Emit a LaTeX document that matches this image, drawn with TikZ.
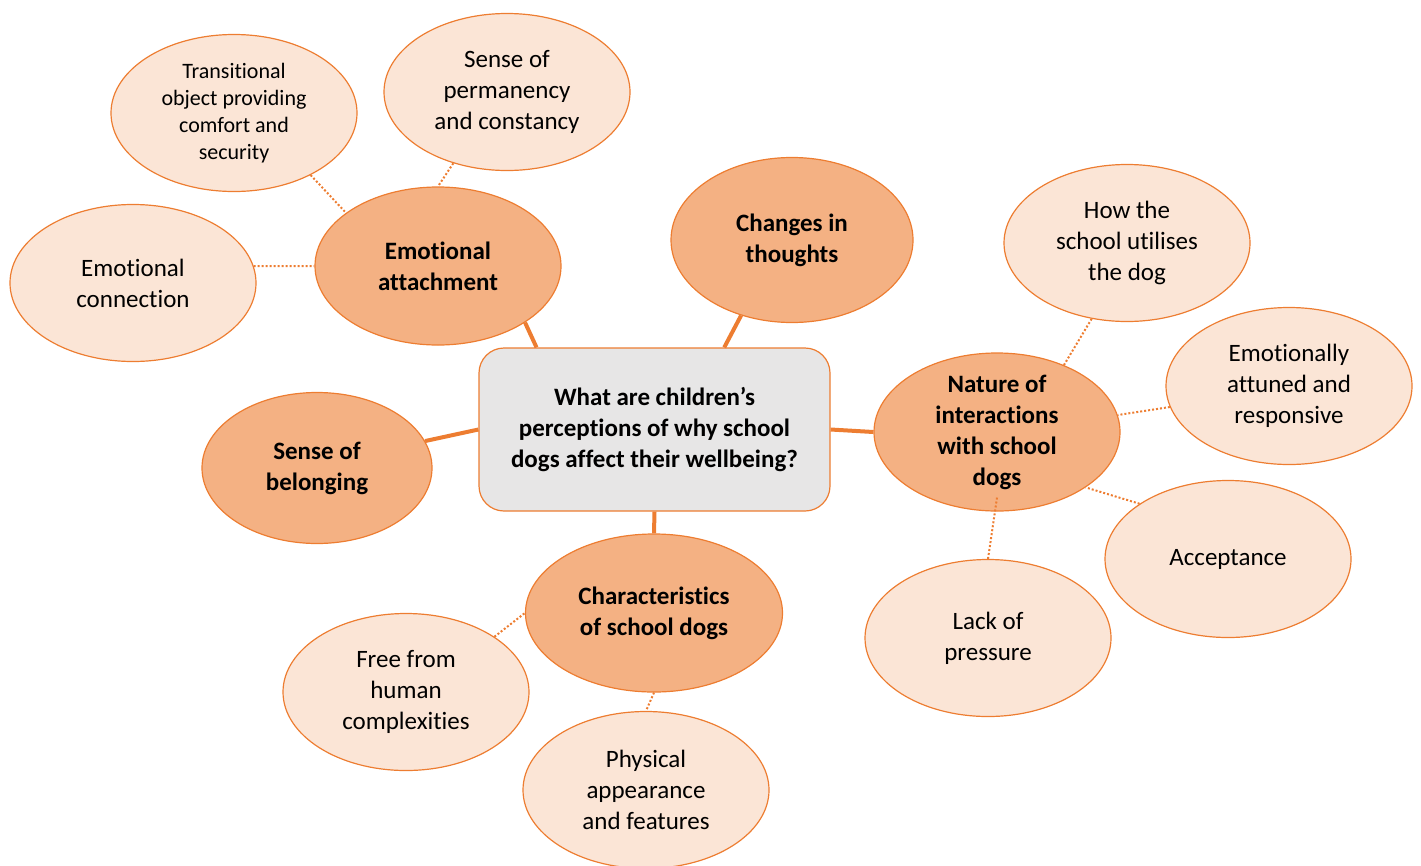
\documentclass[tikz,border=0pt]{standalone}
\usepackage{fontspec}
\setmainfont{Carlito}[Ligatures=CommonOff]
\usetikzlibrary{shapes.geometric, calc}

\definecolor{accent}{HTML}{ED7D31}
\definecolor{topicfill}{HTML}{F4B183}
\definecolor{ideafill}{HTML}{FBE5D6}
\definecolor{qfill}{HTML}{E7E6E6}

\begin{document}
\begin{tikzpicture}[x=1pt, y=-1pt, font=\fontsize{25}{31}\selectfont,
    topic/.style={ellipse, draw=accent, line width=1.2pt, fill=topicfill, align=center,
        inner sep=-8pt, minimum width=246pt, minimum height=158pt,
        font=\fontsize{25}{31}\selectfont\bfseries},
    idea/.style={ellipse, draw=accent, line width=1.2pt, fill=ideafill, align=center,
        inner sep=-8pt, minimum width=246pt, minimum height=157pt},
    question/.style={rectangle, rounded corners=25pt, draw=accent, line width=1.2pt,
        fill=qfill, align=center, minimum width=351pt, minimum height=163pt,
        font=\fontsize{25}{31}\selectfont\bfseries},
    spoke/.style={draw=accent, line width=4pt},
    twig/.style={draw=accent, line width=2pt, dash pattern=on 2pt off 2pt}]
        \useasboundingbox (0,0) rectangle (1421,865);

        \node[question]     (q)     at (654.5,429.5)    {What are children’s\\perceptions of why school\\dogs affect their wellbeing?};

        \node[topic]        (att)   at (438,266)        {Emotional\\attachment};
        \node[topic, minimum width=242pt, minimum height=165pt]
                            (chg)   at (792,240)        {Changes in\\thoughts};
        \node[topic, minimum width=230pt, minimum height=151pt]
                            (bel)   at (317,468)        {Sense of\\belonging};
        \node[topic]        (nat)   at (997,432)        {Nature of\\interactions\\with school\\dogs};
        \node[topic, minimum width=257pt]
                            (chr)   at (654,613)        {Characteristics\\of school dogs};

        \node[idea]         (con)   at (133,283)        {Emotional\\connection};
        \node[idea, font=\fontsize{22}{27}\selectfont]
                            (obj)   at (234,113)        {Transitional\\object providing\\comfort and\\security};
        \node[idea]         (perm)  at (507,92)         {Sense of\\permanency\\and constancy};
        \node[idea]         (use)   at (1127,243)       {How the\\school utilises\\the dog};
        \node[idea]         (tune)  at (1289,386)       {Emotionally\\attuned and\\responsive};
        \node[idea]         (acc)   at (1228,559)       {Acceptance};
        \node[idea]         (pres)  at (988,638)        {Lack of\\pressure};
        \node[idea]         (free)  at (406,692)        {Free from\\human\\complexities};
        \node[idea]         (phys)  at (646,790)        {Physical\\appearance\\and features};

        \path[spoke]
        (att.-33) edge ($(q.north west)!.165!(q.north east)$)
        (chg.-124) edge ($(q.north west)!.698!(q.north east)$)
        (bel.14) edge (q.west)
        (q.east) edge (nat.west)
        (q.south) edge (chr.north)
        ;

        \path[twig]
        (con.8) edge (att.west)
        (obj.-39) edge (att.150)
        (perm.-127) edge (att.north)
        (use.-115) edge (nat.45)
        (tune.190) edge (nat.8)
        (acc.148) edge (nat.-32)
        (pres.north) edge ([yshift=14pt]nat.south)
        (free.32) edge (chr.west)
        (chr.south) edge (phys.north)
        ;
\end{tikzpicture}
\end{document}
